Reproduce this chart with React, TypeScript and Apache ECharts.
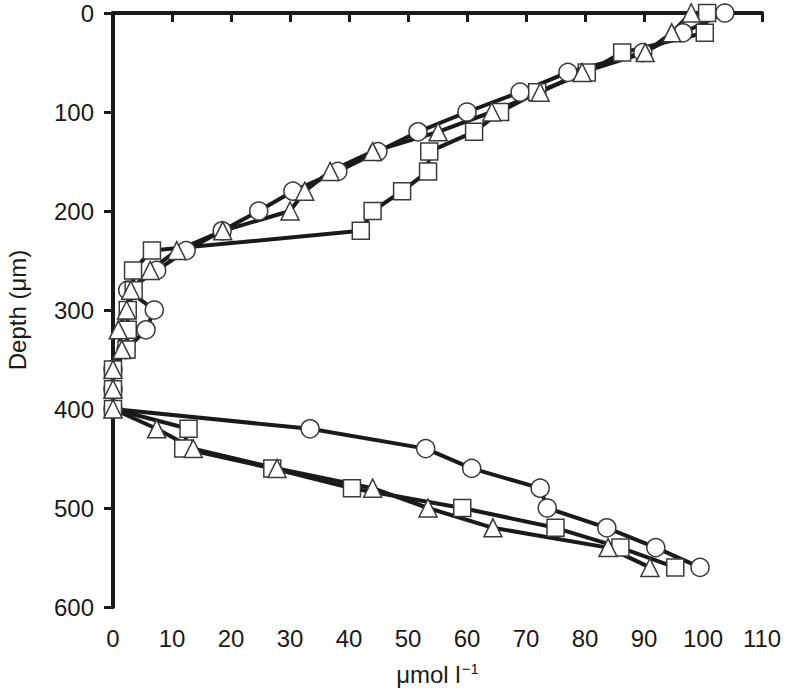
import React, { useEffect, useRef } from "react";
import * as echarts from "echarts";

const depths = [0, 20, 40, 60, 80, 100, 120, 140, 160, 180, 200, 220, 240, 260, 280, 300, 320, 340, 360, 380, 400, 420, 440, 460, 480, 500, 520, 540, 560];

const circleValues = [103.7, 96.6, 89.8, 77.1, 69, 60, 51.7, 44.9, 38.1, 30.5, 24.7, 18.5, 12.4, 7.4, 2.5, 7, 5.6, 2.2, 0, 0, 0, 33.4, 53, 60.8, 72.4, 73.6, 83.7, 92, 99.5];
const squareValues = [100.7, 100.3, 86.3, 80.3, 71.9, 65.6, 61.2, 53.6, 53.4, 49, 44, 42, 6.6, 3.4, 3.5, 2.5, 2.5, 2.3, 0, 0, 0, 12.8, 11.9, 27, 40.5, 59.2, 75, 86, 95.3];
const triangleValues = [98, 94.7, 90.2, 79.5, 72.4, 64.2, 55.1, 44, 36.8, 32.5, 30, 18.6, 10.8, 6.3, 3, 2.3, 0.9, 1.5, 0, 0, 0, 7.4, 13.6, 27.8, 44, 53.4, 64.4, 83.9, 91];

const xTicks = { min: 0, max: 110, interval: 10 };
const yTicks = { min: 0, max: 600, interval: 100 };

const FONT = "Liberation Sans";
const FS = 24;

function pairs(vals: number[]) {
  return vals.map((v, i) => [v, depths[i]]);
}

export default function App() {
  const ref = useRef<HTMLDivElement>(null);
  useEffect(() => {
    if (!ref.current) return;
    const chart = echarts.init(ref.current, undefined, { renderer: "svg" });
    const mk = (name: string, vals: number[], symbol: string, size: number) => ({
      name,
      type: "line",
      data: pairs(vals),
      symbol,
      symbolSize: size,
      showAllSymbol: true,
      lineStyle: { color: "#1a1a1a", width: 4 },
      itemStyle: { color: "#ffffff", borderColor: "#3a3a3a", borderWidth: 1.5 },
      emphasis: { disabled: true },
    });
    chart.setOption({
      animation: false,
      grid: { left: 113, right: 26, top: 13, bottom: 83, containLabel: false, outerBoundsMode: "none" },
      xAxis: {
        type: "value",
        min: xTicks.min,
        max: xTicks.max,
        interval: xTicks.interval,
        splitLine: { show: false },
        axisLine: { show: true, lineStyle: { color: "#1a1a1a", width: 4 } },
        axisTick: { show: true, length: 9, lineStyle: { color: "#1a1a1a", width: 3 } },
        axisLabel: { color: "#1a1a1a", fontFamily: FONT, fontSize: FS, margin: 19 },
        name: "{a|μmol l}{b|−1}",
        nameLocation: "middle",
        nameGap: 54,
        nameTextStyle: {
          rich: {
            a: { fontFamily: FONT, fontSize: FS, color: "#1a1a1a" },
            b: { fontFamily: FONT, fontSize: 15, color: "#1a1a1a", verticalAlign: "top", padding: [0, 0, 12, 1] },
          },
        },
      },
      yAxis: {
        type: "value",
        inverse: true,
        min: yTicks.min,
        max: yTicks.max,
        interval: yTicks.interval,
        splitLine: { show: false },
        axisLine: { show: true, lineStyle: { color: "#1a1a1a", width: 4 } },
        axisTick: { show: true, length: 9, lineStyle: { color: "#1a1a1a", width: 3 } },
        axisLabel: { color: "#1a1a1a", fontFamily: FONT, fontSize: FS, margin: 19 },
        name: "Depth (μm)",
        nameLocation: "middle",
        nameGap: 84,
        nameRotate: 90,
        nameTextStyle: { fontFamily: FONT, fontSize: FS, color: "#1a1a1a" },
      },
      series: [
        mk("circle", circleValues, "circle", 18),
        mk("square", squareValues, "rect", 17),
        mk("triangle", triangleValues, "triangle", 18),
      ],
    });
    return () => chart.dispose();
  }, []);
  return <div ref={ref} style={{ width: 788, height: 690, position: "absolute", left: 0, top: 0 }} />;
}
